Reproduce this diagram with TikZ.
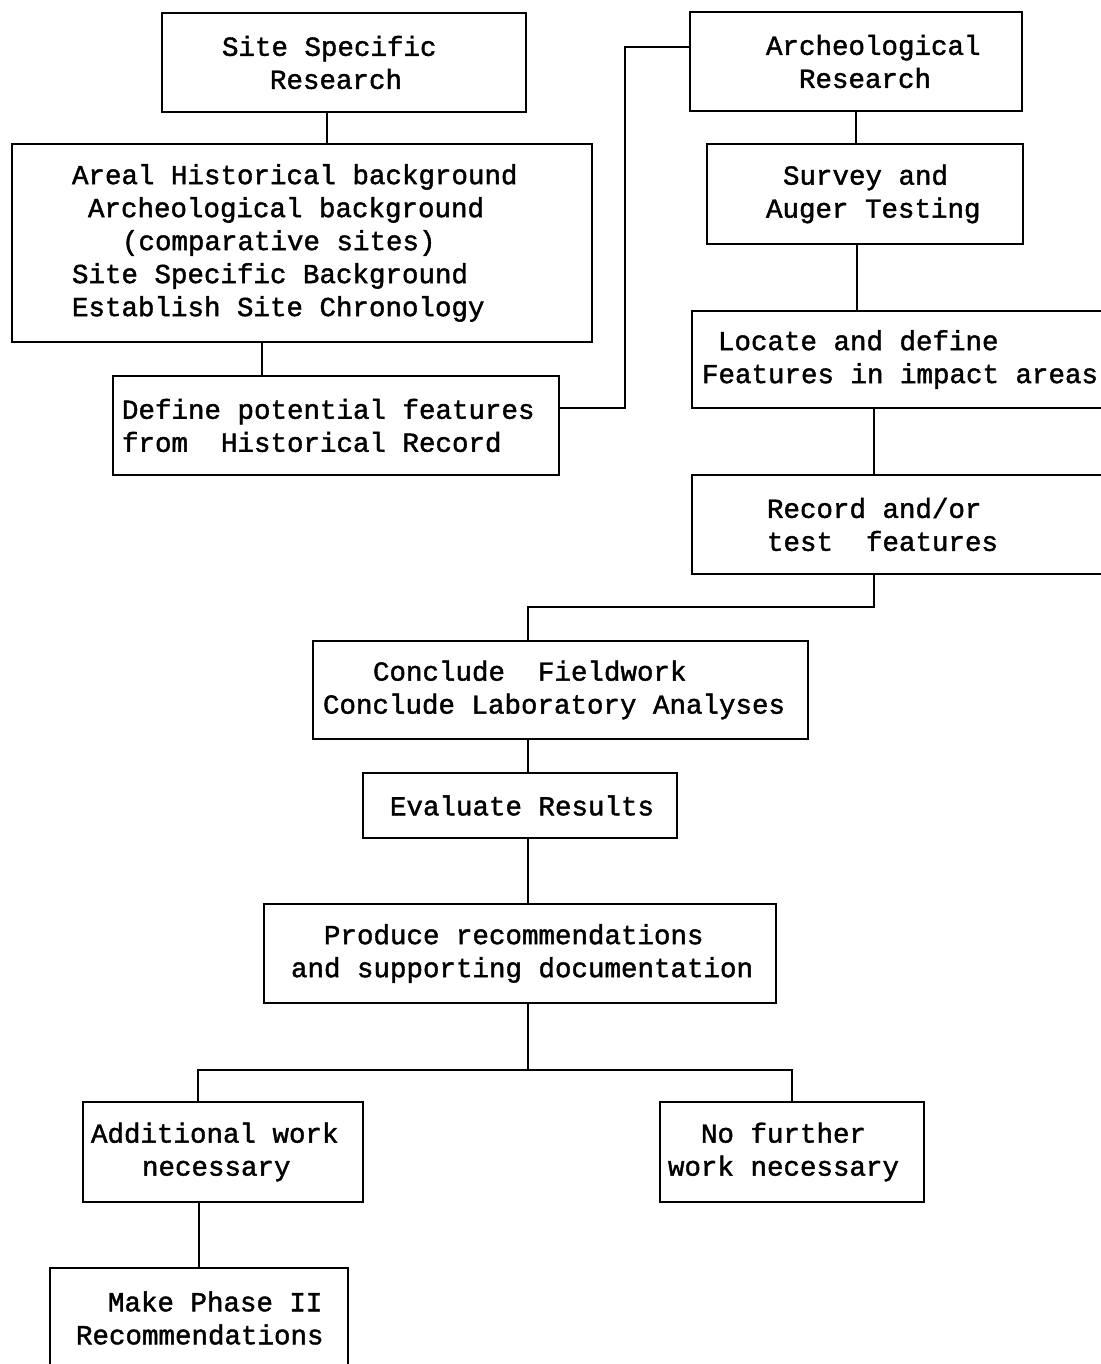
\documentclass[tikz,border=0pt]{standalone}
\usepackage{fontspec}
\setmonofont{Liberation Mono}[FakeBold=1.5]
\usepackage{tikz}
\usetikzlibrary{positioning, calc}
\newcommand{\lpad}[1]{\hspace*{#1\dimexpr0.5pt\relax}}
\newcommand{\tsp}{\hspace{8.25pt}} % one typed blank, one character wide
\newcommand{\typewriter}{\ttfamily\fontsize{13.75}{16.5}\selectfont}
\tikzset{
  stagebox/.style={
	draw=black, % plain outline of each stage
	line width=1.4pt, % heavy typed lines
	rectangle,
	anchor=north west, % boxes are set by their top left corner
	inner xsep=0pt, inner ysep=0pt, outer sep=0pt, % text width is the box width
	align=left, % lines start where they were typed
	font=\typewriter,
  },
  link/.style={
	draw=black, % connectors have no arrow heads
	line width=1.4pt,
  }
}

\begin{document}
\begin{tikzpicture}[x=0.5pt, y=-0.5pt]
	\useasboundingbox (0,0) rectangle (1100,1364);

	\node[stagebox, text width=182pt, minimum height=49.5pt] (site) at (162,13) {\lpad{60}Site\tsp Specific\\\lpad{108}Research};
	\node[stagebox, text width=290pt, minimum height=99pt] (areal) at (12,144) {\lpad{60}Areal\tsp Historical\tsp background\\\lpad{76}Archeological\tsp background\\\lpad{110}(comparative\tsp sites)\\\lpad{60}Site\tsp Specific\tsp Background\\\lpad{60}Establish\tsp Site\tsp Chronology};
	\node[stagebox, text width=223pt, minimum height=49.5pt] (define) at (113,376) {\lpad{9}Define\tsp potential\tsp features\\\lpad{9}from\tsp\tsp Historical\tsp Record};

	\node[stagebox, text width=166pt, minimum height=49.5pt] (arch) at (690,12) {\lpad{76}Archeological\\\lpad{109}Research};
	\node[stagebox, text width=158pt, minimum height=50pt] (survey) at (707,144) {\lpad{76}Survey\tsp and\\\lpad{59}Auger\tsp Testing};
	\node[stagebox, text width=212.5pt, minimum height=48.5pt] (locate) at (692,311) {\lpad{26}Locate\tsp and\tsp define\\\lpad{10}Features\tsp in\tsp impact\tsp areas};
	\node[stagebox, text width=212.5pt, minimum height=49.5pt] (record) at (692,475) {\lpad{75}Record\tsp and/or\\\lpad{75}test\tsp\tsp features};

	\node[stagebox, text width=247.5pt, minimum height=49pt] (conclude) at (313,641) {\lpad{60}Conclude\tsp\tsp Fieldwork\\\lpad{10}Conclude\tsp Laboratory\tsp Analyses};
	\node[stagebox, text width=157pt, minimum height=32.5pt] (evaluate) at (363,773) {\lpad{27}Evaluate\tsp Results};
	\node[stagebox, text width=256pt, minimum height=49.5pt] (produce) at (264,904) {\lpad{60}Produce\tsp recommendations\\\lpad{27}and\tsp supporting\tsp documentation};

	\node[stagebox, text width=140pt, minimum height=50pt] (additional) at (83,1102) {\lpad{8}Additional\tsp work\\\lpad{59}necessary};
	\node[stagebox, text width=132pt, minimum height=50pt] (nofurther) at (660,1102) {\lpad{41}No\tsp further\\\lpad{8}work\tsp necessary};
	\node[stagebox, text width=149pt, minimum height=50pt] (phase) at (50,1268) {\lpad{58}Make\tsp Phase\tsp II\\\lpad{26}Recommendations};

	\draw [link] ([xshift=-8.5pt]site.south) -- ([xshift=12.5pt]areal.north);
	\draw [link] ([xshift=-20pt]areal.south) -- ([xshift=-37pt]define.north);
	\draw [link] ([yshift=8.75pt]define.east) -- ++(33pt,0) |- ([yshift=7.25pt]arch.west);

	\draw [link] (arch.south) -- ([xshift=-4.5pt]survey.north);
	\draw [link] ([xshift=-4pt]survey.south) -- ([xshift=-23.75pt]locate.north);
	\draw [link] ([xshift=-15.25pt]locate.south) -- ([xshift=-15.25pt]record.north);
	\draw [link] ([xshift=-15.25pt]record.south) -- ++(0,-16.5pt) -| ([xshift=-16.25pt]conclude.north);

	\draw [link] ([xshift=-16.25pt]conclude.south) -- ([xshift=4pt]evaluate.north);
	\draw [link] ([xshift=4pt]evaluate.south) -- ([xshift=4pt]produce.north);
	\draw [link] ([xshift=4pt]produce.south) -- ++(0,-33.5pt) coordinate (fork);
	\draw [link] (fork) -| ([xshift=-12.5pt]additional.north);
	\draw [link] (fork) -| (nofurther.north);
	\draw [link] ([xshift=-12pt]additional.south) -- (phase.north);

\end{tikzpicture}
\end{document}
